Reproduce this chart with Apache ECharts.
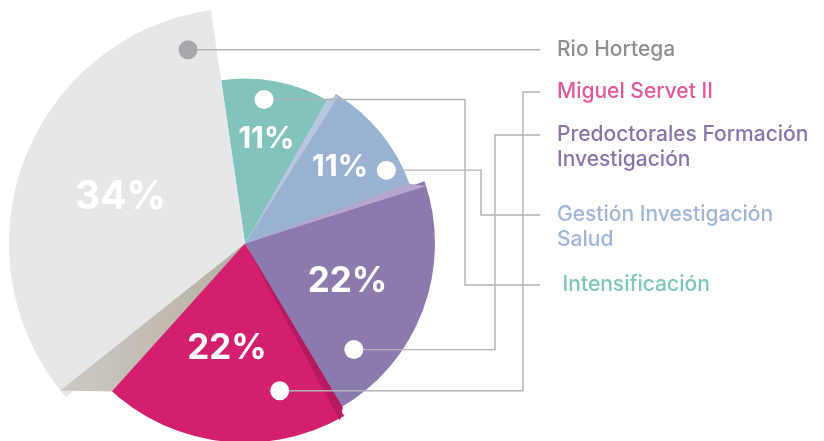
<!DOCTYPE html>
<html>
<head>
<meta charset="utf-8">
<script src="https://cdn.jsdelivr.net/npm/echarts@6/dist/echarts.min.js"></script>
<style>
html,body{margin:0;padding:0;background:#fff;}
#chart{width:824px;height:441px;}
</style>
</head>
<body>
<div id="chart"></div>
<script>
// ---- data ----
const categories = ['Intensificación', 'Gestión Investigación Salud', 'Predoctorales Formación Investigación', 'Miguel Servet II', 'Rio Hortega'];
const values = [11, 11, 22, 22, 34];
const legendLines = [[' Intensificación'], ['Gestión Investigación', 'Salud'], ['Predoctorales Formación', 'Investigación'], ['Miguel Servet II'], ['Rio Hortega']];

// ---- styles / layout ----
const sliceColors = ['#82c4bc', '#9ab2d1', '#8b7aad', '#d41f6e', '#e6e7e8'];
const textColors = ['#7ec6bc', '#9fb6d8', '#8a72ab', '#e0579a', '#8e8e8e'];
const radii = [165, 175, 190, 199, 236];
const labelRadiusFrac = [0.63, 0.68, 0.56, 0.52, 0.55];
const labelFontSize = [30, 30, 35, 35, 39];
const dotLayout = [[0.40, 0.88], [0.79, 0.91], [0.80, 0.80], [0.21, 0.76], [0.934, 0.856]];
const dotColors = ['#ffffff', '#ffffff', '#ffffff', '#ffffff', '#a7a8ab'];
const elbowX = [465, 481, 495, 523, null];
const textY = [285, 215, 135, 92, null];
const CX = 245, CY = 243.5;
const START_FROM_TOP = -8.3; // degrees, clockwise from 12 o'clock
const LINE_END_X = 540, TEXT_X = 557, LINE_H = 25;

const total = values.reduce((a, b) => a + b, 0);
const startAngles = [];
const sweeps = [];
{
  let acc = 0;
  values.forEach(v => { startAngles.push(START_FROM_TOP + 360 * acc / total); sweeps.push(360 * v / total); acc += v; });
}
function pt(deg, r) {
  const a = deg * Math.PI / 180;
  return [CX + r * Math.sin(a), CY - r * Math.cos(a)];
}

const series = [];
// visible slices: one series per slice, same angles, own radius
values.forEach((v, i) => {
  series.push({
    type: 'pie', silent: true, animation: false,
    center: [CX, CY], radius: [0, radii[i]],
    startAngle: 90 - START_FROM_TOP, clockwise: true,
    label: { show: false }, labelLine: { show: false },
    data: values.map((val, j) => ({
      name: categories[j], value: val,
      itemStyle: { color: j === i ? sliceColors[i] : 'rgba(0,0,0,0)', borderWidth: 0 }
    })),
    z: 2
  });
});
// percentage labels
values.forEach((v, i) => {
  const L = radii[i] * labelRadiusFrac[i];
  series.push({
    type: 'pie', silent: true, animation: false,
    center: [CX, CY], radius: [L - 1, L + 1],
    startAngle: 90 - START_FROM_TOP, clockwise: true,
    labelLine: { show: false },
    data: values.map((val, j) => ({
      name: categories[j], value: val,
      itemStyle: { color: 'rgba(0,0,0,0)', borderWidth: 0 },
      label: j === i ? {
        show: true, position: 'inside',
        formatter: p => Math.round(p.percent) + '%',
        color: '#ffffff', fontFamily: 'Inter', fontWeight: 700, fontSize: labelFontSize[i]
      } : { show: false }
    })),
    z: 5
  });
});

// decorative side faces
const graphic = [];
function poly(points, fill, z) {
  graphic.push({ type: 'polygon', z: z, silent: true, shape: { points: points }, style: { fill: fill } });
}
poly([[CX, CY], pt(startAngles[1] - 1.6, radii[0] + 1), pt(startAngles[1] + 1.1, radii[1])], '#b8c6de', 10);
poly([[CX, CY], pt(startAngles[2] - 0.9, radii[1]), pt(startAngles[2] + 1.5, radii[2])], '#b4a6cc', 10);
poly([[CX, CY], pt(startAngles[3] - 0.9, radii[2] + 1), pt(startAngles[3] + 1.7, radii[3] + 2)], '#b6195e', 10);
{
  const A = pt(startAngles[4] + 2.2, radii[4]);
  const B = pt(startAngles[4] - 7.3, radii[3]);
  poly([[CX, CY], A, B], {
    type: 'linear', x: 0, y: 0, x2: 1, y2: 0, global: false,
    colorStops: [{ offset: 0, color: '#cdc9c3' }, { offset: 1, color: '#b7afa2' }]
  }, 10);
}

// connectors, dots and names
values.forEach((v, i) => {
  const d = pt(startAngles[i] + sweeps[i] * dotLayout[i][0], radii[i] * dotLayout[i][1]);
  const ty = textY[i] == null ? d[1] : textY[i];
  const pts = elbowX[i] == null
    ? [d, [LINE_END_X, ty]]
    : [d, [elbowX[i], d[1]], [elbowX[i], ty], [LINE_END_X, ty]];
  graphic.push({ type: 'polyline', z: 20, silent: true, shape: { points: pts }, style: { stroke: '#b3b3b3', lineWidth: 1.4, fill: null } });
  graphic.push({ type: 'circle', z: 21, silent: true, shape: { cx: d[0], cy: d[1], r: 9.5 }, style: { fill: dotColors[i] } });
  graphic.push({
    type: 'text', z: 22, silent: true,
    style: {
      text: legendLines[i].join('\n'), x: TEXT_X, y: ty - LINE_H / 2,
      fill: textColors[i], font: '500 21px Inter', lineHeight: LINE_H,
      textVerticalAlign: 'top', verticalAlign: 'top', textAlign: 'left', align: 'left'
    }
  });
});

const chart = echarts.init(document.getElementById('chart'), null, { renderer: 'canvas' });
chart.setOption({ animation: false, backgroundColor: '#ffffff', series: series, graphic: { elements: graphic } });
</script>
</body>
</html>
